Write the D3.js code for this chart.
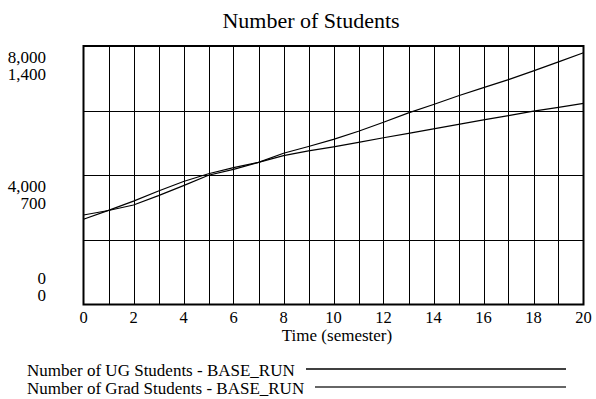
<!DOCTYPE html>
<html lang="en">
<head>
    <meta charset="UTF-8">
    <title>Number of Students</title>
    <script src="https://d3js.org/d3.v7.min.js"></script>
    <style>
        body { margin: 0; background: #fff; }
        svg { font-family: "Liberation Serif", "Times New Roman", serif; }
        .grid line { stroke: #000; stroke-width: 1; shape-rendering: crispEdges; }
        .series { fill: none; stroke: #000; stroke-width: 1.2; }
    </style>
</head>
<body>
    <svg id="chart" width="596" height="399"></svg>
    <script>
        // time in semesters
        const time = d3.range(0, 21);
        // Number of UG Students - BASE_RUN (outer scale 0..8,000)
        const ugStudents = [2770, 2910, 3080, 3370, 3680, 4000, 4180, 4400, 4680, 4890, 5110,
                            5360, 5640, 5930, 6190, 6460, 6710, 6960, 7230, 7510, 7790];
        // Number of Grad Students - BASE_RUN (inner scale 0..1,400)
        const gradStudents = [462, 510, 560, 615, 666, 708, 741, 770, 806, 832, 854,
                              878, 903, 927, 951, 976, 1000, 1023, 1047, 1068, 1089];
        const xTicks = [0, 2, 4, 6, 8, 10, 12, 14, 16, 18, 20];
        const ugTicks = [0, 4000, 8000];
        const gradTicks = [0, 700, 1400];
        const legendLabels = ["Number of UG Students - BASE_RUN", "Number of Grad Students - BASE_RUN"];

        const svg = d3.select("#chart");
        const plot = { left: 83.5, right: 583.5, top: 46, bottom: 304.5 };

        const x = d3.scaleLinear().domain([0, 20]).range([plot.left, plot.right]);
        const yUG = d3.scaleLinear().domain([0, 8000]).range([plot.bottom, plot.top]);
        const yGrad = d3.scaleLinear().domain([0, 1400]).range([plot.bottom, plot.top]);

        // title
        svg.append("text")
            .attr("x", 311).attr("y", 28)
            .attr("text-anchor", "middle")
            .style("font-size", "22px")
            .text("Number of Students");

        // grid
        const grid = svg.append("g").attr("class", "grid");
        grid.selectAll(".v").data(d3.range(1, 20)).enter().append("line")
            .attr("x1", d => Math.round(x(d)) + 0.5).attr("x2", d => Math.round(x(d)) + 0.5)
            .attr("y1", plot.top).attr("y2", plot.bottom);
        grid.selectAll(".h").data([2000, 4000, 6000]).enter().append("line")
            .attr("x1", plot.left).attr("x2", plot.right)
            .attr("y1", d => Math.round(yUG(d)) + 0.5).attr("y2", d => Math.round(yUG(d)) + 0.5);

        // frame
        svg.append("rect")
            .attr("x", plot.left).attr("y", plot.top)
            .attr("width", plot.right - plot.left).attr("height", plot.bottom - plot.top)
            .attr("fill", "none").attr("stroke", "#000").attr("stroke-width", 2);

        // series
        const lineUG = d3.line().x((d, i) => x(time[i])).y(d => yUG(d));
        const lineGrad = d3.line().x((d, i) => x(time[i])).y(d => yGrad(d));
        svg.append("path").datum(ugStudents).attr("class", "series").attr("d", lineUG);
        svg.append("path").datum(gradStudents).attr("class", "series").attr("d", lineGrad);

        // y labels: two stacked scales
        const fmt = d3.format(",");
        const yLab = svg.append("g").attr("text-anchor", "end").style("font-size", "17px");
        yLab.selectAll(".ug").data(ugTicks).enter().append("text")
            .attr("x", 46).attr("y", d => yUG(d) + (d === 0 ? -21 : 16.5))
            .text(d => fmt(d));
        yLab.selectAll(".grad").data(gradTicks).enter().append("text")
            .attr("x", 46).attr("y", d => yGrad(d) + (d === 0 ? -3.8 : 34))
            .text(d => fmt(d));

        // x axis labels
        svg.append("g").attr("text-anchor", "middle").style("font-size", "16.5px")
            .selectAll("text").data(xTicks).enter().append("text")
            .attr("x", d => x(d)).attr("y", 322.5)
            .text(d => d);
        svg.append("text")
            .attr("x", 337).attr("y", 341)
            .attr("text-anchor", "middle")
            .style("font-size", "17px")
            .text("Time (semester)");

        // legend
        const legend = svg.append("g").style("font-size", "17px");
        legend.selectAll("text").data(legendLabels).enter().append("text")
            .attr("x", 27).attr("y", (d, i) => 376 + i * 18)
            .text(d => d);
        legend.selectAll("line").data(legendLabels).enter().append("line")
            .attr("x1", (d, i) => [306, 315][i]).attr("x2", 566)
            .attr("y1", (d, i) => 369 + i * 18).attr("y2", (d, i) => 369 + i * 18)
            .attr("stroke", (d, i) => i === 0 ? "#000" : "#666")
            .attr("stroke-width", (d, i) => i === 0 ? 1.5 : 2);
    </script>
</body>
</html>
